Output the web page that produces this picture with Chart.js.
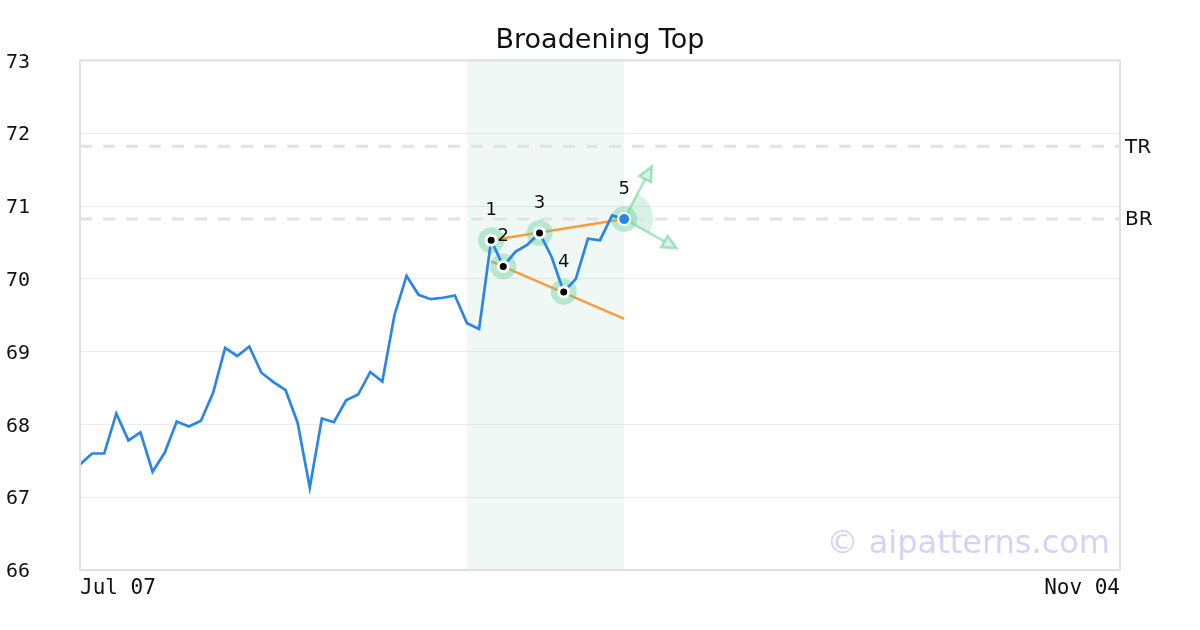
<!DOCTYPE html>
<html>
<head>
<meta charset="utf-8">
<title>Broadening Top</title>
<script src="https://cdn.jsdelivr.net/npm/chart.js@4/dist/chart.umd.min.js"></script>
<style>
  html, body { margin: 0; padding: 0; background: #fff; }
  #wrap { width: 1200px; height: 630px; }
</style>
</head>
<body>
<div id="wrap"><canvas id="chart" width="1200" height="630"></canvas></div>
<script>
// Daily closes, one per trading session starting Jul 07
const priceValues = [67.45, 67.60, 67.60, 68.15, 67.78, 67.89, 67.35, 67.61, 68.04, 67.97,
  68.05, 68.43, 69.05, 68.94, 69.07, 68.71, 68.58, 68.47, 68.02, 67.13,
  68.08, 68.03, 68.33, 68.41, 68.72, 68.59, 69.50, 70.04, 69.78, 69.72,
  69.74, 69.77, 69.39, 69.31, 70.53, 70.17, 70.37, 70.47, 70.63, 70.30,
  69.82, 70.00, 70.55, 70.53, 70.87, 70.82];
const xTickLabels = ['Jul 07', 'Nov 04'];
const xMax = 86;

// Pattern pivots (index into priceValues)
const pivotIdx = [34, 35, 38, 40];
const pivotLabels = ['1', '2', '3', '4'];
const breakoutIdx = 45;
const breakoutLabel = '5';

// Trend lines between x = 34 and x = 45
const trendX = [34, 45];
const upperTrend = [70.53, 70.82];
const lowerTrend = [70.24, 69.45];

// Reference levels
const levelNames = ['TR', 'BR'];
const levelValues = [71.82, 70.82];

// Shaded pattern window
const bandRange = [32, 45];

// Projection arrow tips from the breakout point
const arrowTips = [{ x: 47.27, y: 71.54 }, { x: 49.34, y: 70.42 }];

const GREEN = 'rgba(100,205,150,';
const MONO = '"DejaVu Sans Mono", monospace';
const SANS = '"DejaVu Sans", sans-serif';

const pricePoints = priceValues.map((v, i) => ({ x: i, y: v }));
const pivotPoints = pivotIdx.map(i => ({ x: i, y: priceValues[i] }));
const breakoutPoint = { x: breakoutIdx, y: priceValues[breakoutIdx] };

const datasets = [
  {
    data: pricePoints,
    borderColor: '#2a86e6', borderWidth: 2.7,
    pointRadius: 0, tension: 0, order: 4
  },
  {
    data: trendX.map((x, i) => ({ x: x, y: upperTrend[i] })),
    borderColor: '#f89c3e', borderWidth: 2.5, pointRadius: 0, order: 8
  },
  {
    data: trendX.map((x, i) => ({ x: x, y: lowerTrend[i] })),
    borderColor: '#f89c3e', borderWidth: 2.5, pointRadius: 0, order: 8
  },
  {
    // halos
    data: pivotPoints.concat([breakoutPoint]),
    showLine: false, pointRadius: 13, pointBorderWidth: 0,
    pointBackgroundColor: GREEN + '0.4)', order: 6
  },
  {
    data: pivotPoints,
    showLine: false, pointRadius: 5, pointBorderWidth: 3,
    pointBackgroundColor: '#000', pointBorderColor: '#fff', order: 2
  },
  {
    data: [breakoutPoint],
    showLine: false, pointRadius: 6, pointBorderWidth: 2,
    pointBackgroundColor: '#2a86e6', pointBorderColor: '#fff', order: 1
  }
];

levelValues.forEach(v => {
  datasets.push({
    data: [{ x: 0, y: v }, { x: xMax, y: v }],
    borderColor: '#e2e2e2', borderWidth: 3, borderDash: [12, 11],
    pointRadius: 0, order: 10
  });
});

// Band, breakout sector and arrows under the datasets
const underlay = {
  id: 'underlay',
  beforeDatasetsDraw(chart) {
    const { ctx, chartArea, scales: { x, y } } = chart;
    ctx.save();
    ctx.fillStyle = 'rgba(100,190,150,0.1)';
    const x0 = x.getPixelForValue(bandRange[0]);
    const x1 = x.getPixelForValue(bandRange[1]);
    ctx.fillRect(x0, chartArea.top, x1 - x0, chartArea.bottom - chartArea.top);

    const cx = x.getPixelForValue(breakoutPoint.x);
    const cy = y.getPixelForValue(breakoutPoint.y);
    const tips = arrowTips.map(t => ({ x: x.getPixelForValue(t.x), y: y.getPixelForValue(t.y) }));
    const a1 = Math.atan2(tips[0].y - cy, tips[0].x - cx);
    const a2 = Math.atan2(tips[1].y - cy, tips[1].x - cx);
    ctx.beginPath();
    ctx.moveTo(cx, cy);
    ctx.arc(cx, cy, 29, a1, a2, false);
    ctx.closePath();
    ctx.fillStyle = GREEN + '0.25)';
    ctx.fill();

    ctx.strokeStyle = GREEN + '0.55)';
    ctx.fillStyle = GREEN + '0.25)';
    ctx.lineWidth = 2.5;
    tips.forEach(t => {
      const ang = Math.atan2(t.y - cy, t.x - cx);
      const len = 14, hw = 6.5;
      const bx = t.x - Math.cos(ang) * len, by = t.y - Math.sin(ang) * len;
      ctx.beginPath();
      ctx.moveTo(cx, cy);
      ctx.lineTo(bx, by);
      ctx.stroke();
      ctx.beginPath();
      ctx.moveTo(t.x, t.y);
      ctx.lineTo(bx - Math.sin(ang) * hw, by + Math.cos(ang) * hw);
      ctx.lineTo(bx + Math.sin(ang) * hw, by - Math.cos(ang) * hw);
      ctx.closePath();
      ctx.fill();
      ctx.stroke();
    });
    ctx.restore();
  }
};

// Pivot numbers, border, level names, watermark
const overlay = {
  id: 'overlay',
  afterDatasetsDraw(chart) {
    const { ctx, scales: { x, y } } = chart;
    ctx.save();
    ctx.font = '18px ' + SANS;
    ctx.fillStyle = '#111';
    ctx.textAlign = 'center';
    ctx.textBaseline = 'middle';
    pivotPoints.concat([breakoutPoint]).forEach((p, i) => {
      const label = i < pivotLabels.length ? pivotLabels[i] : breakoutLabel;
      ctx.fillText(label, x.getPixelForValue(p.x), y.getPixelForValue(p.y) - 30);
    });
    ctx.restore();
  },
  afterDraw(chart) {
    const { ctx, chartArea, scales: { y } } = chart;
    ctx.save();
    ctx.strokeStyle = '#dfdfdf';
    ctx.lineWidth = 2;
    ctx.strokeRect(chartArea.left, chartArea.top, chartArea.right - chartArea.left, chartArea.bottom - chartArea.top);

    ctx.font = '20px ' + SANS;
    ctx.fillStyle = '#111';
    ctx.textAlign = 'left';
    ctx.textBaseline = 'middle';
    levelValues.forEach((v, i) => {
      ctx.fillText(levelNames[i], chartArea.right + 5, y.getPixelForValue(v) + 1);
    });

    ctx.font = '32px ' + SANS;
    ctx.fillStyle = '#d2d2fb';
    ctx.textAlign = 'right';
    ctx.textBaseline = 'alphabetic';
    ctx.fillText('\u00a9 aipatterns.com', chartArea.right - 10, chartArea.bottom - 17);
    ctx.restore();
  }
};

new Chart(document.getElementById('chart'), {
  type: 'line',
  data: { datasets: datasets },
  options: {
    responsive: false,
    animation: false,
    layout: { padding: { left: 6, right: 6, top: 0, bottom: 0 } },
    plugins: {
      legend: { display: false },
      tooltip: { enabled: false },
      title: {
        display: true,
        text: 'Broadening Top',
        color: '#111',
        font: { family: SANS, size: 27, weight: 'normal' },
        padding: { top: 25, bottom: 3 }
      }
    },
    scales: {
      x: {
        type: 'linear',
        min: 0, max: xMax,
        grid: { display: false, drawTicks: false },
        border: { display: false },
        afterBuildTicks: s => { s.ticks = [{ value: 0 }, { value: xMax }]; },
        afterFit: s => { s.height = 60; },
        ticks: {
          align: 'inner', maxRotation: 0, padding: 6,
          color: '#111', font: { family: MONO, size: 21 },
          callback: (v) => v === 0 ? xTickLabels[0] : xTickLabels[1]
        }
      },
      y: {
        min: 66, max: 73,
        grid: { color: '#ececec', lineWidth: 1, drawTicks: false },
        border: { display: false },
        afterFit: s => { s.width = 74; },
        ticks: {
          stepSize: 1, crossAlign: 'far', labelOffset: 2,
          color: '#111', font: { family: MONO, size: 20 }
        }
      },
      // empty right-hand gutter for the level names
      yR: {
        position: 'right',
        min: 66, max: 73,
        grid: { display: false, drawTicks: false },
        border: { display: false },
        ticks: { display: false },
        afterFit: s => { s.width = 74; }
      }
    }
  },
  plugins: [underlay, overlay]
});
</script>
</body>
</html>
